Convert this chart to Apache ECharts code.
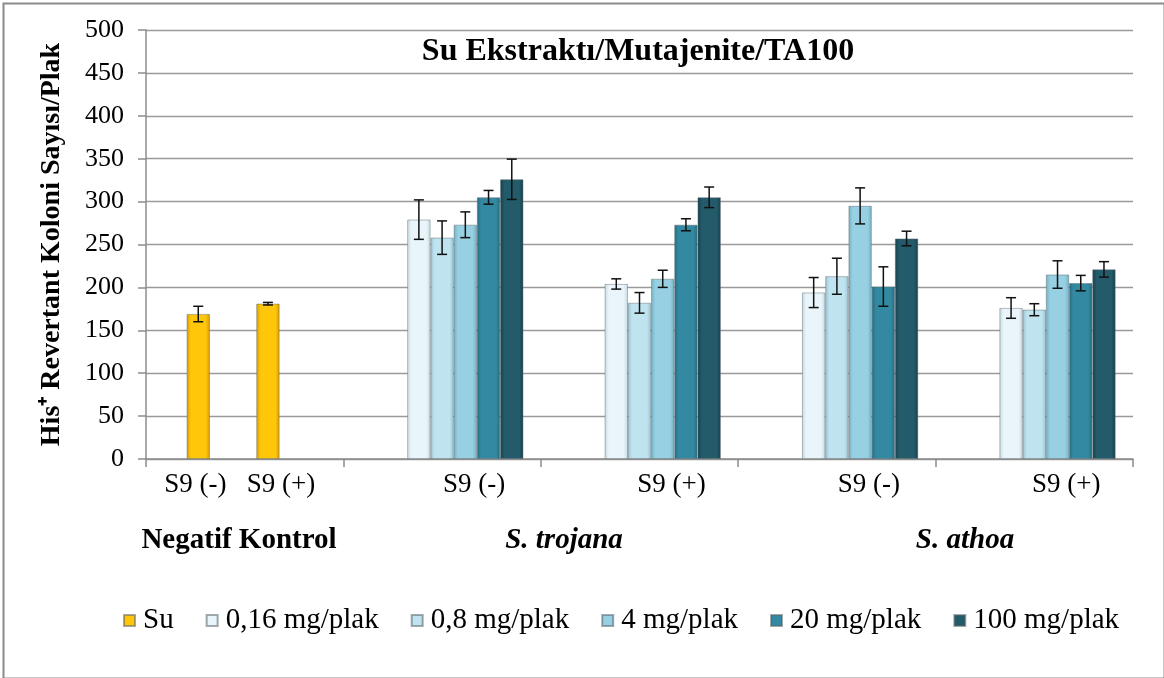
<!DOCTYPE html>
<html>
<head>
<meta charset="utf-8">
<script src="https://cdn.jsdelivr.net/npm/echarts@6/dist/echarts.min.js"></script>
<style>html,body{margin:0;padding:0;background:#fff}#c{width:1164px;height:678px}</style>
</head>
<body>
<div id="c"></div>
<script>
// ---- data ----
const categories = ['S9 (-)   S9 (+)', 'S9 (-)', 'S9 (+)', 'S9 (-)', 'S9 (+)'];
const groupLabels = ['Negatif Kontrol', 'S. trojana', 'S. athoa'];
const seriesNames = ['Su', '0,16 mg/plak', '0,8 mg/plak', '4 mg/plak', '20 mg/plak', '100 mg/plak'];
const negControl = [169, 181];       // Su: S9(-), S9(+)
const negControlErr = [9, 1.5];
const dose016 = ['-', 279, 204, 194, 176];
const dose016Err = [0, 23, 6, 17.5, 12];
const dose08 = ['-', 258, 182, 213, 174];
const dose08Err = [0, 19.5, 12, 21, 7];
const dose4 = ['-', 273, 210, 295, 215];
const dose4Err = [0, 15, 10, 21, 16];
const dose20 = ['-', 305, 273, 201, 205];
const dose20Err = [0, 8, 7, 23, 9];
const dose100 = ['-', 326, 305, 257, 221];
const dose100Err = [0, 23.5, 12, 8.5, 9];
const yTicks = { min: 0, max: 500, interval: 50 };

// ---- styles ----
const FONT = "'Times New Roman', 'Liberation Serif', serif";
function grad(edge, mid, edge2) {
  return new echarts.graphic.LinearGradient(0, 0, 1, 0, [
    { offset: 0, color: edge }, { offset: 0.18, color: mid }, { offset: 0.5, color: mid },
    { offset: 0.82, color: mid }, { offset: 1, color: edge2 || edge }
  ]);
}
const colors = [
  grad('#D89A00', '#FFC60A'),
  grad('#C5DAE3', '#E9F5FA'),
  grad('#9CC3D1', '#BFE4F0'),
  grad('#74AFC2', '#96D0E2'),
  grad('#256B80', '#3389A1'),
  grad('#183F4A', '#235B6A')
];
const NSLOTS = 7;          // one empty leading slot + 6 series
const GAP = 1.5 / 8.5;     // Excel gap width 150%

const suData = [negControl[0], '-', '-', '-', '-'];
const d4Data = dose4.slice();
d4Data[0] = { value: negControl[1], itemStyle: { color: colors[0] } };
const values = [suData, dose016, dose08, d4Data, dose20, dose100];
const errs = [[negControlErr[0], 0, 0, 0, 0], dose016Err, dose08Err,
  [negControlErr[1]].concat(dose4Err.slice(1)), dose20Err, dose100Err];

const series = [{
  name: 'blank', type: 'bar', data: ['-', '-', '-', '-', '-'],
  barGap: '0%', barCategoryGap: (GAP * 100) + '%', silent: true
}];
values.forEach((v, i) => {
  series.push({
    name: seriesNames[i], type: 'bar', data: v,
    barGap: '0%', barCategoryGap: (GAP * 100) + '%',
    itemStyle: { color: colors[i], borderColor: 'rgba(90,100,105,0.55)', borderWidth: 0.8 }
  });
});
// error bars
const errData = [];
values.forEach((v, i) => {
  v.forEach((d, c) => {
    const val = (d && typeof d === 'object') ? d.value : d;
    if (val === '-' ) return;
    errData.push([c, i + 1, val, errs[i][c]]);
  });
});
series.push({
  name: 'err', type: 'custom', z: 10, silent: true,
  data: errData,
  encode: { x: 0, y: 2 },
  renderItem: function (params, api) {
    const c = api.value(0), slot = api.value(1), val = api.value(2), e = api.value(3);
    const catW = api.size([1, 0])[0];
    const barsW = catW * (1 - GAP);
    const slotW = barsW / NSLOTS;
    const x = api.coord([c, 0])[0] - barsW / 2 + (slot + 0.5) * slotW;
    const yt = api.coord([c, val + e])[1];
    const yb = api.coord([c, val - e])[1];
    const cap = 5;
    const st = { stroke: '#111', lineWidth: 1.5 };
    return { type: 'group', children: [
      { type: 'line', shape: { x1: x, y1: yt, x2: x, y2: yb }, style: st },
      { type: 'line', shape: { x1: x - cap, y1: yt, x2: x + cap, y2: yt }, style: st },
      { type: 'line', shape: { x1: x - cap, y1: yb, x2: x + cap, y2: yb }, style: st }
    ]};
  }
});

const chart = echarts.init(document.getElementById('c'));
chart.setOption({
  animation: false,
  backgroundColor: '#fff',
  textStyle: { fontFamily: FONT, color: '#000' },
  title: {
    text: 'Su Ekstraktı/Mutajenite/TA100', left: 633, top: 31, textAlign: 'center',
    textStyle: { fontFamily: FONT, fontWeight: 'bold', fontSize: 32, color: '#000' }
  },
  grid: { left: 146, right: 31, top: 30, bottom: 219 },
  legend: {
    data: seriesNames, left: 118, top: 601, itemWidth: 11, itemHeight: 11, itemGap: 32,
    icon: 'rect',
    textStyle: { fontFamily: FONT, fontSize: 29, color: '#000', padding: [0, 0, 0, 3] }
  },
  xAxis: {
    type: 'category', data: categories,
    axisLine: { lineStyle: { color: '#8c8c8c', width: 1.5 } },
    axisTick: { show: true, length: 8, lineStyle: { color: '#8c8c8c', width: 1.5 } },
    axisLabel: {
      interval: 0, hideOverlap: false,
      margin: 12, fontFamily: FONT, fontSize: 27, color: '#000',
      formatter: (v, i) => i === 0 ? '{a|' + v + '}' : '{b|' + v + '}',
      rich: {
        a: { fontFamily: FONT, fontSize: 27, color: '#000', padding: [0, 10, 0, 0] },
        b: { fontFamily: FONT, fontSize: 27, color: '#000', padding: [0, 0, 0, 64] }
      }
    }
  },
  yAxis: {
    type: 'value', min: yTicks.min, max: yTicks.max, interval: yTicks.interval,
    name: 'His⁺ Revertant Koloni Sayısı/Plak', nameLocation: 'middle', nameGap: 80,
    nameTextStyle: { fontFamily: FONT, fontWeight: 'bold', fontSize: 28, color: '#000' },
    axisLine: { show: true, lineStyle: { color: '#8c8c8c', width: 1.5 } },
    axisTick: { show: true, length: 8, lineStyle: { color: '#8c8c8c', width: 1.5 } },
    axisLabel: { margin: 22, fontFamily: FONT, fontSize: 26, color: '#000' },
    splitLine: { lineStyle: { color: '#9a9a9a', width: 1.3 } }
  },
  graphic: [
    { type: 'rect', left: 1, top: 1, shape: { width: 1161, height: 675 }, style: { fill: 'none', stroke: '#8a8a8a', lineWidth: 2 }, silent: true },
    { type: 'text', x: 239, y: 541, style: { text: groupLabels[0], font: 'bold 29px ' + FONT, fill: '#000', textAlign: 'center', textVerticalAlign: 'middle' } },
    { type: 'text', x: 564, y: 541, style: { text: groupLabels[1], font: 'italic bold 29px ' + FONT, fill: '#000', textAlign: 'center', textVerticalAlign: 'middle' } },
    { type: 'text', x: 965, y: 541, style: { text: groupLabels[2], font: 'italic bold 29px ' + FONT, fill: '#000', textAlign: 'center', textVerticalAlign: 'middle' } }
  ],
  series: series
});
</script>
</body>
</html>
